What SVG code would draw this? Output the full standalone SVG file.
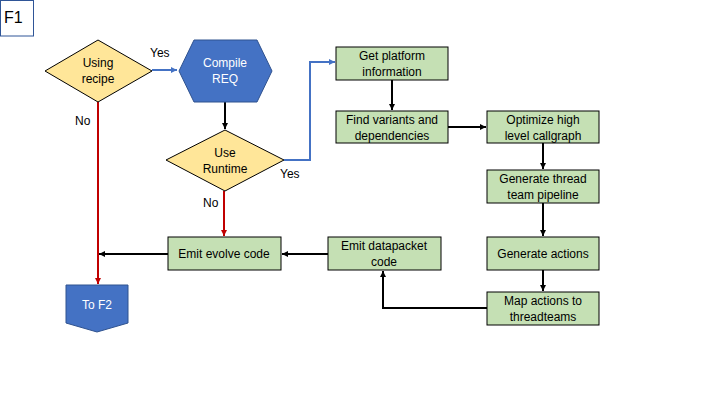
<svg xmlns="http://www.w3.org/2000/svg" width="720" height="405" viewBox="0 0 720 405">
<style>
text{font-family:"Liberation Sans",Arial,sans-serif;font-size:12px;fill:#000;text-anchor:middle}
.box{fill:#C5E0B4;stroke:#000;stroke-width:1}
.dia{fill:#FFE699;stroke:#000;stroke-width:1}
.blue{fill:#4472C4;stroke:#2F528F;stroke-width:1}
.wt{fill:#fff}
.c{fill:none;stroke-width:2}
.k{stroke:#000}
.r{stroke:#C00000}
.b{stroke:#4472C4}
.lbl{text-anchor:start}
</style>
<defs>
<marker id="ak" markerUnits="userSpaceOnUse" markerWidth="8" markerHeight="8" refX="6" refY="3" orient="auto"><path d="M0,0 L6,3 L0,6 Z" fill="#000"/></marker>
<marker id="ar" markerUnits="userSpaceOnUse" markerWidth="8" markerHeight="8" refX="6" refY="3" orient="auto"><path d="M0,0 L6,3 L0,6 Z" fill="#C00000"/></marker>
<marker id="ab" markerUnits="userSpaceOnUse" markerWidth="8" markerHeight="8" refX="6" refY="3" orient="auto"><path d="M0,0 L6,3 L0,6 Z" fill="#4472C4"/></marker>
</defs>
<rect width="720" height="405" fill="#fff"/>
<g id="f1">
<rect x="0.5" y="0.5" width="33" height="35.5" fill="#fff" stroke="#2F5597" stroke-width="1"/>
<text x="4" y="23" class="lbl" style="font-size:16px">F1</text>
</g>
<g id="connectors">
<path class="c b" d="M152,70 H177" marker-end="url(#ab)"/>
<path class="c k" d="M225,102 V129" marker-end="url(#ak)"/>
<path class="c b" d="M284,160 H310 V62 H335" marker-end="url(#ab)"/>
<path class="c r" d="M98,102 V284" marker-end="url(#ar)"/>
<path class="c r" d="M224,191 V236" marker-end="url(#ar)"/>
<path class="c k" d="M392,80 V110" marker-end="url(#ak)"/>
<path class="c k" d="M448,127 H486" marker-end="url(#ak)"/>
<path class="c k" d="M543,143 V169" marker-end="url(#ak)"/>
<path class="c k" d="M543,203 V236" marker-end="url(#ak)"/>
<path class="c k" d="M543,270 V291" marker-end="url(#ak)"/>
<path class="c k" d="M487,308 H383 V271" marker-end="url(#ak)"/>
<path class="c k" d="M328,254 H282" marker-end="url(#ak)"/>
<path class="c k" d="M168,254 H99" marker-end="url(#ak)"/>
<text x="150" y="57" class="lbl">Yes</text>
<text x="75" y="125" class="lbl">No</text>
<text x="280" y="178" class="lbl">Yes</text>
<text x="203" y="207" class="lbl">No</text>
</g>
<g id="using-recipe">
<path class="dia" d="M98,40 L152,71 L98,102 L45,71 Z"/>
<text x="98" y="67">Using</text>
<text x="98" y="83">recipe</text>
</g>
<g id="compile-req">
<path class="blue" d="M194,40 H257 L272,71 L257,102 H194 L179,71 Z"/>
<text x="225" y="67" class="wt">Compile</text>
<text x="225" y="83" class="wt">REQ</text>
</g>
<g id="use-runtime">
<path class="dia" d="M225,130 L284,160 L225,191 L166,160 Z"/>
<text x="225" y="157">Use</text>
<text x="225" y="173">Runtime</text>
</g>
<g id="get-platform">
<rect class="box" x="336" y="47" width="112" height="33"/>
<text x="392" y="60">Get platform</text>
<text x="392" y="76">information</text>
</g>
<g id="find-variants">
<rect class="box" x="336" y="111" width="112" height="32"/>
<text x="392" y="124">Find variants and</text>
<text x="392" y="140">dependencies</text>
</g>
<g id="optimize">
<rect class="box" x="487" y="111" width="112" height="32"/>
<text x="543" y="124">Optimize high</text>
<text x="543" y="140">level callgraph</text>
</g>
<g id="gen-pipeline">
<rect class="box" x="487" y="170" width="112" height="33"/>
<text x="543" y="183">Generate thread</text>
<text x="543" y="199">team pipeline</text>
</g>
<g id="gen-actions">
<rect class="box" x="487" y="237" width="112" height="33"/>
<text x="543" y="258">Generate actions</text>
</g>
<g id="map-actions">
<rect class="box" x="487" y="292" width="112" height="33"/>
<text x="543" y="305">Map actions to</text>
<text x="543" y="321">threadteams</text>
</g>
<g id="emit-datapacket">
<rect class="box" x="328" y="237" width="113" height="33"/>
<text x="384" y="250">Emit datapacket</text>
<text x="384" y="266">code</text>
</g>
<g id="emit-evolve">
<rect class="box" x="168" y="237" width="113" height="33"/>
<text x="224" y="258">Emit evolve code</text>
</g>
<g id="to-f2">
<path class="blue" d="M66,285 H128 V323 L97,332 L66,323 Z"/>
<text x="97" y="309" class="wt">To F2</text>
</g>
</svg>
